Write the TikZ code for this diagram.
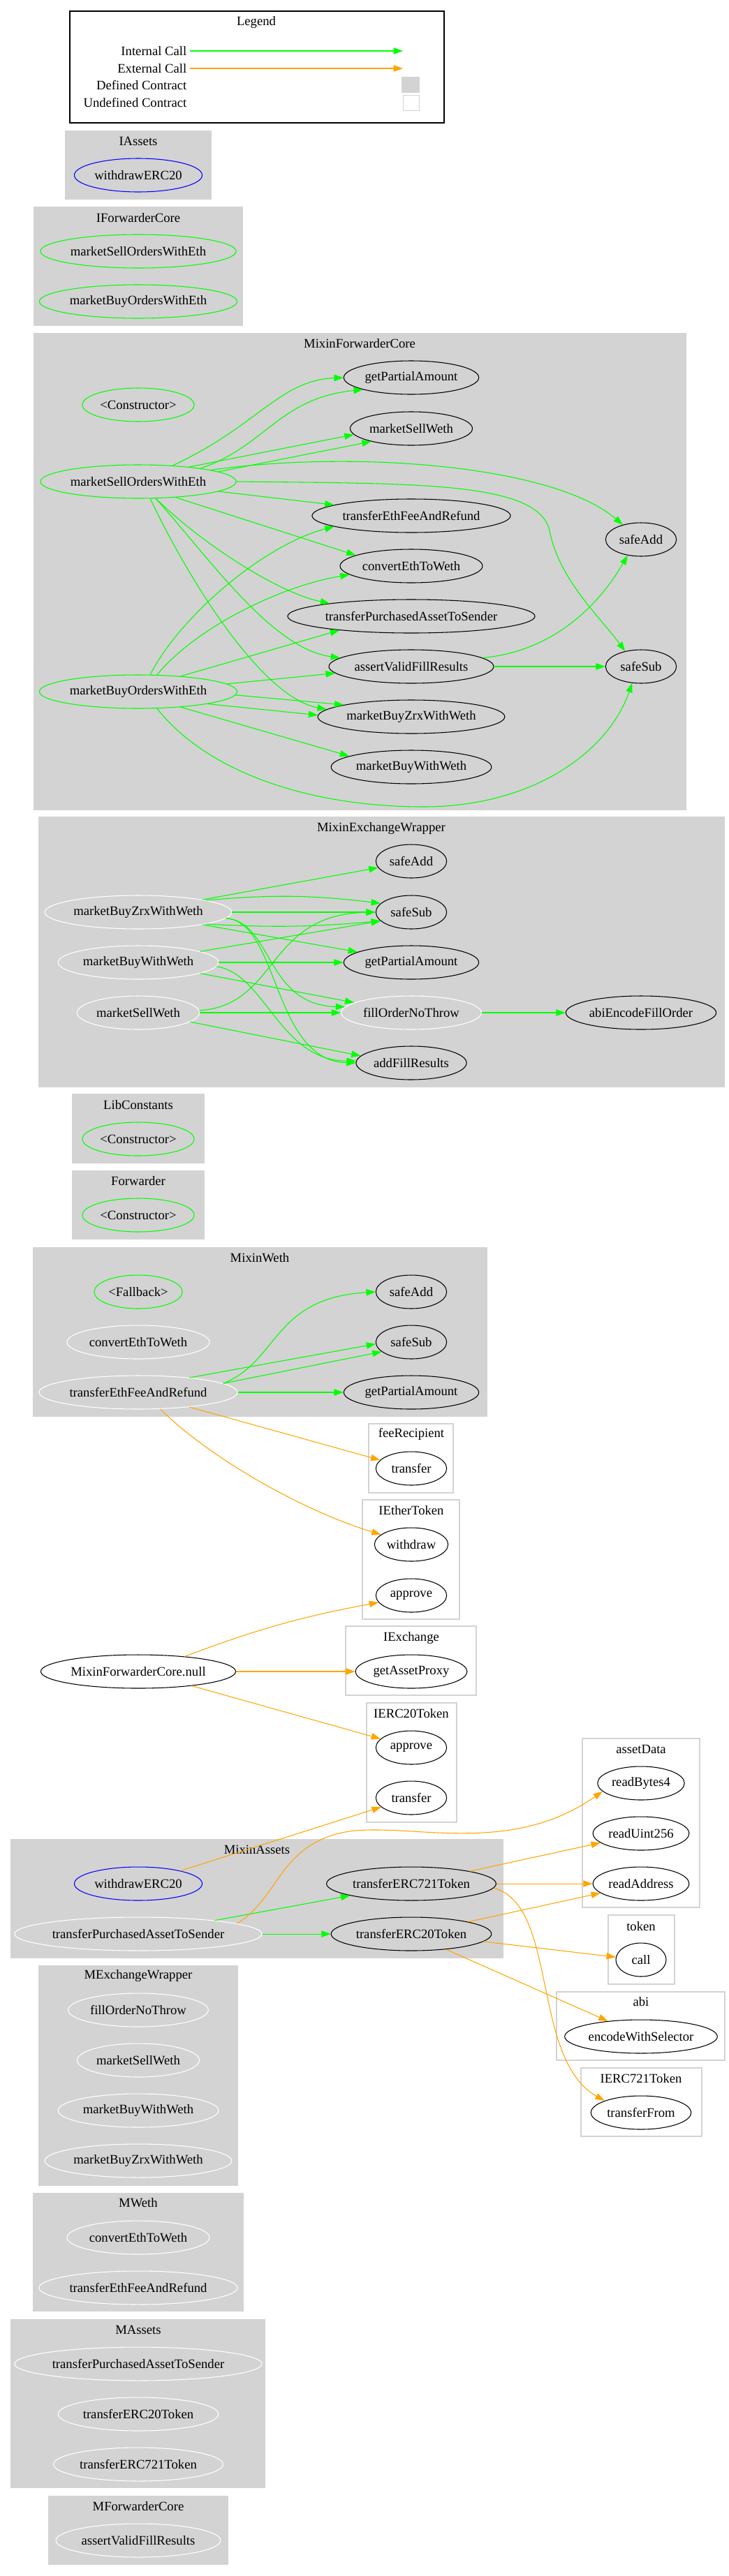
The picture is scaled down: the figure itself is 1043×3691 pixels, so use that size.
\documentclass[tikz,border=0pt]{standalone}
\usepackage{fontspec}
\setmainfont{Liberation Serif}
\usepackage{tikz}
\usetikzlibrary{arrows.meta,%
		shapes.geometric,%
		positioning}

\definecolor{gvgreen}{RGB}{0,255,0}
\definecolor{gvorange}{RGB}{255,165,0}
\definecolor{gvgray}{RGB}{211,211,211}

\tikzset{fn/.style={ellipse,minimum height=36pt,minimum width=76pt,inner xsep=1.5pt,inner ysep=0pt,line width=0.8pt},
	pub/.style={fn,draw=gvgreen},
	extf/.style={fn,draw=blue},
	intf/.style={fn,draw=white},
	blk/.style={fn,draw=black},
	intcall/.style={draw=gvgreen,line width=0.8pt,-{Triangle[length=10pt,width=7pt]}},
	extcall/.style={draw=gvorange,line width=0.8pt,-{Triangle[length=10pt,width=7pt]}},
	defc/.style={fill=gvgray},
	undefc/.style={draw=gvgray,line width=1.2pt,fill=white}}

\begin{document}
\begin{tikzpicture}[x=0.75pt,y=-0.75pt,font=\fontsize{14pt}{16pt}\selectfont]
\useasboundingbox (0,0) rectangle (1043,3691);
%legend
\draw[line width=1pt] (100,16) rectangle (636,176);
\node (tLeg) at (367,32) {Legend};
\node[anchor=east] (lint) at (272,73) {Internal Call};
\node[anchor=east] (lext) at (272,98) {External Call};
\node[anchor=east] (ldef) at (272,122) {Defined Contract};
\node[anchor=east] (lund) at (272,147) {Undefined Contract};
\coordinate (lintE) at (577,73);
\coordinate (lextE) at (577,98);
\fill[gvgray] (575,110) rectangle (601,133);
\draw[gvgray,fill=white] (577,136) rectangle (600,158);
%IAssets
\fill[defc] (93,187) rectangle (303,286);
\node (tIA) at (198,202) {IAssets};
\node[extf] (iwd) at (198,251) {withdrawERC20};
%IForwarderCore
\fill[defc] (48,296) rectangle (348,467);
\node (tIFC) at (198,312) {IForwarderCore};
\node[pub] (isell) at (198,360) {marketSellOrdersWithEth};
\node[pub] (ibuy) at (198,432) {marketBuyOrdersWithEth};
%MixinForwarderCore
\fill[defc] (48,477) rectangle (983,1161);
\node (tMFC) at (515,492) {MixinForwarderCore};
\node[blk] (fgpa) at (589,541) {getPartialAmount};
\node[pub] (fcons) at (198,580) {\textless Constructor\textgreater};
\node[blk] (fmsw) at (589,614) {marketSellWeth};
\node[pub] (fsell) at (198,690) {marketSellOrdersWithEth};
\node[blk] (ftef) at (589,739) {transferEthFeeAndRefund};
\node[blk] (fadd) at (918,773) {safeAdd};
\node[blk] (fconv) at (589,811) {convertEthToWeth};
\node[blk] (ftpa) at (589,883) {transferPurchasedAssetToSender};
\node[blk] (fchk) at (589,955) {assertValidFillResults};
\node[blk] (fsub) at (918,955) {safeSub};
\node[pub] (fbuy) at (198,991) {marketBuyOrdersWithEth};
\node[blk] (fzrx) at (589,1027) {marketBuyZrxWithWeth};
\node[blk] (fbww) at (589,1099) {marketBuyWithWeth};
%MixinExchangeWrapper
\fill[defc] (55,1170) rectangle (1038,1558);
\node (tMEW) at (546,1187) {MixinExchangeWrapper};
\node[blk] (xadd) at (589,1234) {safeAdd};
\node[intf] (xzrx) at (198,1307) {marketBuyZrxWithWeth};
\node[blk] (xsub) at (589,1307) {safeSub};
\node[intf] (xbww) at (198,1379) {marketBuyWithWeth};
\node[blk] (xgpa) at (589,1379) {getPartialAmount};
\node[intf] (xmsw) at (198,1451) {marketSellWeth};
\node[intf] (xfill) at (589,1451) {fillOrderNoThrow};
\node[blk] (xabi) at (918,1451) {abiEncodeFillOrder};
\node[blk] (xaddf) at (589,1523) {addFillResults};
%LibConstants, Forwarder
\fill[defc] (103,1567) rectangle (293,1667);
\node (tLC) at (198,1583) {LibConstants};
\node[pub] (lcons) at (198,1632) {\textless Constructor\textgreater};
\fill[defc] (103,1677) rectangle (293,1776);
\node (tFw) at (198,1692) {Forwarder};
\node[pub] (wcons) at (198,1741) {\textless Constructor\textgreater};
%MixinWeth
\fill[defc] (47,1787) rectangle (698,2030);
\node (tMW) at (372,1802) {MixinWeth};
\node[pub] (wfb) at (198,1851) {\textless Fallback\textgreater};
\node[blk] (wadd) at (589,1851) {safeAdd};
\node[intf] (wconv) at (198,1923) {convertEthToWeth};
\node[blk] (wsub) at (589,1923) {safeSub};
\node[intf] (wtef) at (198,1995) {transferEthFeeAndRefund};
\node[blk] (wgpa) at (589,1995) {getPartialAmount};
%external contracts
\draw[undefc] (528,2040) rectangle (649,2139);
\node (tFR) at (589,2055) {feeRecipient};
\node[blk] (rtr) at (589,2104) {transfer};
\draw[undefc] (519,2149) rectangle (658,2320);
\node (tIET) at (589,2164) {IEtherToken};
\node[blk] (ewd) at (589,2213) {withdraw};
\node[blk] (eap) at (589,2286) {approve};
\draw[undefc] (495,2330) rectangle (682,2429);
\node (tIEx) at (589,2347) {IExchange};
\node[blk] (egap) at (589,2395) {getAssetProxy};
\node[blk] (nul) at (198,2395) {MixinForwarderCore.null};
\draw[undefc] (525,2440) rectangle (654,2611);
\node (tI20) at (589,2455) {IERC20Token};
\node[blk] (iap) at (589,2504) {approve};
\node[blk] (itr) at (589,2576) {transfer};
\draw[undefc] (834,2491) rectangle (1002,2733);
\node (tAD) at (918,2506) {assetData};
\node[blk] (rb4) at (918,2555) {readBytes4};
\node[blk] (ru) at (918,2627) {readUint256};
\node[blk] (ra) at (918,2699) {readAddress};
%MixinAssets
\fill[defc] (15,2635) rectangle (721,2806);
\node (tMA) at (368,2650) {MixinAssets};
\node[extf] (awd) at (198,2699) {withdrawERC20};
\node[blk] (a721) at (589,2699) {transferERC721Token};
\node[intf] (atpa) at (198,2771) {transferPurchasedAssetToSender};
\node[blk] (a20) at (589,2771) {transferERC20Token};
\draw[undefc] (871,2744) rectangle (966,2843);
\node (tTk) at (918,2760) {token};
\node[blk,minimum width=54pt] (tcall) at (918,2808) {call};
\draw[undefc] (797,2854) rectangle (1038,2952);
\node (tAbi) at (918,2868) {abi};
\node[blk] (enc) at (918,2918) {encodeWithSelector};
\draw[undefc] (832,2963) rectangle (1005,3061);
\node (tI721) at (918,2978) {IERC721Token};
\node[blk] (tfrom) at (918,3027) {transferFrom};
%interfaces M...
\fill[defc] (55,2816) rectangle (341,3132);
\node (tMEx) at (198,2831) {MExchangeWrapper};
\node[intf] (mfill) at (198,2880) {fillOrderNoThrow};
\node[intf] (mmsw) at (198,2952) {marketSellWeth};
\node[intf] (mbww) at (198,3024) {marketBuyWithWeth};
\node[intf] (mzrx) at (198,3096) {marketBuyZrxWithWeth};
\fill[defc] (47,3142) rectangle (349,3312);
\node (tMWe) at (198,3156) {MWeth};
\node[intf] (mconv) at (198,3206) {convertEthToWeth};
\node[intf] (mtef) at (198,3278) {transferEthFeeAndRefund};
\fill[defc] (15,3323) rectangle (380,3565);
\node (tMAs) at (198,3338) {MAssets};
\node[intf] (mtpa) at (198,3387) {transferPurchasedAssetToSender};
\node[intf] (m20) at (198,3459) {transferERC20Token};
\node[intf] (m721) at (198,3531) {transferERC721Token};
\fill[defc] (69,3576) rectangle (327,3675);
\node (tMFo) at (198,3591) {MForwarderCore};
\node[intf] (mchk) at (198,3640) {assertValidFillResults};

%edges
\draw[intcall] (lint) -- (lintE);
\draw[extcall] (lext) -- (lextE);
%MixinForwarderCore
\draw[intcall] (fsell.25) .. controls (370,610) and (400,545) .. (fgpa.180);
\draw[intcall] (fsell.12) .. controls (380,640) and (400,570) .. (fgpa.194);
\draw[intcall] (fsell.16) -- (fmsw.186);
\draw[intcall] (fsell.7) -- (fmsw.198);
\draw[intcall] (fsell.9) .. controls (500,645) and (790,665) .. (fadd.141);
\draw[intcall] (fsell.east) .. controls (600,693) and (770,690) .. (787,760) .. controls (800,830) and (860,885) .. (fsub.136);
\draw[intcall] (fsell.353) -- (ftef.172);
\draw[intcall] (fsell.337) -- (fconv.169);
\draw[intcall] (fsell.316) .. controls (290,780) and (400,850) .. (ftpa.171);
\draw[intcall] (fsell.316) .. controls (300,800) and (390,930) .. (fchk.173);
\draw[intcall] (fsell.305) .. controls (280,850) and (380,1000) .. (fzrx.175);
\draw[intcall] (fbuy.55) .. controls (260,880) and (380,780) .. (ftef.188);
\draw[intcall] (fbuy.42) .. controls (280,900) and (400,840) .. (fconv.188);
\draw[intcall] (fbuy.20) -- (ftpa.191);
\draw[intcall] (fbuy.5) -- (fchk.185);
\draw[intcall] (fbuy.358) -- (fzrx.170);
\draw[intcall] (fbuy.350) -- (fzrx.179);
\draw[intcall] (fbuy.340) -- (fbww.170);
\draw[intcall] (fbuy.318) .. controls (300,1110) and (450,1156) .. (606,1156) .. controls (760,1156) and (870,1080) .. (fsub.242);
\draw[intcall] (fchk.7) .. controls (780,935) and (850,880) .. (fadd.230);
\draw[intcall] (fchk) -- (fsub);
%MixinExchangeWrapper
\draw[intcall] (xzrx.11) -- (xadd.191);
\draw[intcall] (xzrx.10) to[bend left=6] (xsub.164);
\draw[intcall] (xzrx) -- (xsub);
\draw[intcall] (xzrx.350) to[bend right=4] (xsub.196);
\draw[intcall] (xzrx.349) -- (xgpa.169);
\draw[intcall] (xzrx.356) .. controls (390,1320) and (380,1440) .. (xfill.175);
\draw[intcall] (xzrx.356) .. controls (400,1320) and (390,1520) .. (xaddf.180);
\draw[intcall] (xbww.10) -- (xsub.196);
\draw[intcall] (xbww) -- (xgpa);
\draw[intcall] (xbww.350) -- (xfill.170);
\draw[intcall] (xbww.357) .. controls (380,1395) and (400,1520) .. (xaddf.178);
\draw[intcall] (xmsw.2) .. controls (400,1440) and (380,1310) .. (xsub.180);
\draw[intcall] (xmsw) -- (xfill);
\draw[intcall] (xmsw.350) -- (xaddf.172);
\draw[intcall] (xfill) -- (xabi);
%MixinWeth
\draw[intcall] (wtef.6) .. controls (400,1950) and (390,1860) .. (wadd.180);
\draw[intcall] (wtef.16) -- (wsub.183);
\draw[intcall] (wtef.6) -- (wsub.198);
\draw[intcall] (wtef) -- (wgpa);
\draw[extcall] (wtef.344) -- (rtr.165);
\draw[extcall] (wtef.323) .. controls (290,2080) and (420,2160) .. (ewd.162);
\draw[extcall] (nul.18) to[bend left=5] (eap.192);
\draw[extcall] (nul) -- (egap);
\draw[extcall] (nul.345) -- (iap.164);
%MixinAssets
\draw[extcall] (awd.17) -- (itr.197);
\draw[intcall] (atpa.10) -- (a721.191);
\draw[intcall] (atpa) -- (a20);
\draw[extcall] (atpa.6) .. controls (400,2720) and (400,2640) .. (500,2624) .. controls (590,2612) and (730,2660) .. (rb4.192);
\draw[extcall] (a721.12) -- (ru.193);
\draw[extcall] (a721) -- (ra);
\draw[extcall] (a721.357) .. controls (800,2730) and (760,2950) .. (tfrom.162);
\draw[extcall] (a20.12) -- (ra.193);
\draw[extcall] (a20.354) -- (tcall.174);
\draw[extcall] (a20.336) -- (enc.155);
\end{tikzpicture}
\end{document}
